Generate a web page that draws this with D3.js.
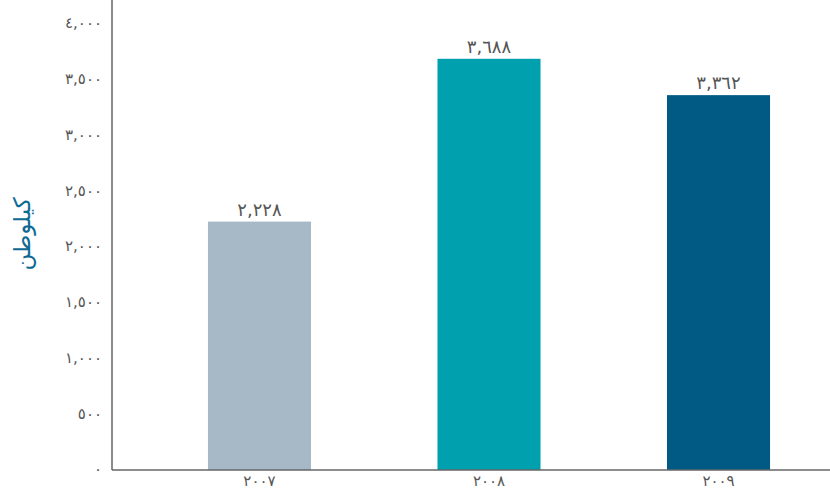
<!DOCTYPE html>
<html><head><meta charset="utf-8">
<script src="https://cdn.jsdelivr.net/npm/d3@7"></script>
<style>body{margin:0;background:#fff}svg{display:block}</style>
</head><body>
<svg id="c" width="830" height="499"></svg>
<script>
const categories = ["2007", "2008", "2009"];
const values = [2228, 3688, 3362];
const colors = ["#a7b9c7", "#00a0ae", "#005a84"];
const yTicks = [0, 500, 1000, 1500, 2000, 2500, 3000, 3500, 4000];
const yTitle = "كيلوطن";

const toAr = s => String(s).replace(/[0-9]/g, d => "٠١٢٣٤٥٦٧٨٩"[+d]);
const fmt = v => toAr(d3.format(",")(v));

const svg = d3.select("#c");
const x = d3.scaleBand().domain(categories).range([112, 866]).paddingInner(0.551).paddingOuter(0.418);
const y = d3.scaleLinear().domain([0, 4000]).range([470, 24]);
const font = "'DejaVu Sans', sans-serif";

svg.selectAll("rect.bar").data(values).join("rect")
  .attr("class", "bar")
  .attr("x", (d, i) => x(categories[i]))
  .attr("width", x.bandwidth())
  .attr("y", d => y(d))
  .attr("height", d => y(0) - y(d))
  .attr("fill", (d, i) => colors[i]);

svg.selectAll("text.val").data(values).join("text")
  .attr("class", "val")
  .attr("x", (d, i) => x(categories[i]) + x.bandwidth() / 2)
  .attr("y", d => y(d) - 6)
  .attr("text-anchor", "middle")
  .attr("direction", "ltr")
  .attr("letter-spacing", 1.5)
  .attr("font-family", font).attr("font-size", 18).attr("fill", "#555")
  .text(d => fmt(d));

const yAxis = svg.append("g").attr("transform", "translate(112,0)")
  .call(d3.axisLeft(y).tickValues(yTicks).tickSize(0).tickPadding(10).tickFormat(fmt));
yAxis.select(".domain").attr("stroke", "#666").attr("stroke-width", 1.5).attr("d", "M0,0V470");
yAxis.selectAll("text").attr("font-family", font).attr("font-size", 15).attr("letter-spacing", 1.5)
  .attr("fill", "#555").attr("dy", "0.25em").attr("direction", "ltr");

const xAxis = svg.append("g").attr("transform", "translate(0,470)")
  .call(d3.axisBottom(x).tickSize(0).tickPadding(5).tickFormat(toAr));
xAxis.select(".domain").attr("stroke", "#666").attr("stroke-width", 1.5).attr("d", "M112,0H830");
xAxis.selectAll("text").attr("font-family", font).attr("font-size", 15).attr("letter-spacing", 1.5)
  .attr("fill", "#555").attr("direction", "ltr");

svg.append("text")
  .attr("transform", "translate(22,234) rotate(-90)")
  .attr("text-anchor", "middle").attr("dominant-baseline", "central")
  .attr("font-family", font).attr("font-size", 23).attr("fill", "#0e6a93")
  .text(yTitle);
</script>
</body></html>
